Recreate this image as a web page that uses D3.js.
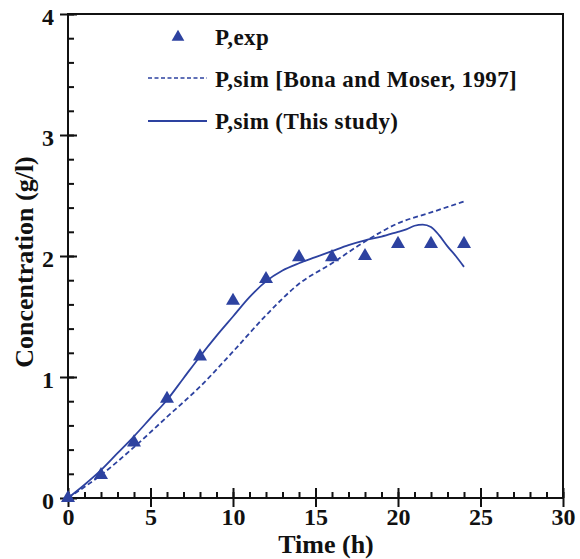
<!DOCTYPE html>
<html>
<head>
<meta charset="utf-8">
<script src="https://cdn.jsdelivr.net/npm/d3@7/dist/d3.min.js"></script>
<style>
  body { margin: 0; background: #fff; }
  text { font-family: "Liberation Serif", "Times New Roman", serif; font-weight: bold; fill: #111; }
</style>
</head>
<body>
<div id="chart"></div>
<script>
// experimental product concentration
const expTime = [0, 2, 4, 6, 8, 10, 12, 14, 16, 18, 20, 22, 24];
const expConc = [0, 0.19, 0.46, 0.82, 1.17, 1.63, 1.81, 1.99, 1.99, 2.0, 2.1, 2.1, 2.1];

// simulation, Bona and Moser 1997
const moserTime = [0, 2, 4, 6, 8, 10, 12, 14, 16, 18, 20, 22, 24];
const moserConc = [0, 0.19, 0.42, 0.67, 0.92, 1.21, 1.51, 1.77, 1.94, 2.12, 2.27, 2.36, 2.45];

// simulation, this study
const studyTime = [0, 1, 2, 3, 4, 5, 6, 7, 8, 9, 10, 11, 12, 13, 14, 15, 16, 17, 18, 19, 20, 20.5, 21, 21.5, 22, 22.5, 23, 23.5, 24];
const studyConc = [0, 0.11, 0.23, 0.37, 0.51, 0.66, 0.81, 0.99, 1.17, 1.34, 1.50, 1.66, 1.79, 1.88, 1.94, 1.99, 2.04, 2.09, 2.13, 2.16, 2.20, 2.22, 2.25, 2.26, 2.24, 2.17, 2.08, 2.00, 1.91];

const xMajor = [0, 5, 10, 15, 20, 25, 30];
const yMajor = [0, 1, 2, 3, 4];
const legendLabels = ['P,exp', 'P,sim [Bona and Moser, 1997]', 'P,sim (This study)'];

const width = 580, height = 559;
const blue = '#2d42a0';

const svg = d3.select('#chart')
    .append('svg')
    .attr('width', width)
    .attr('height', height);

const x = d3.scaleLinear().domain([0, 30]).range([68, 563]);
const y = d3.scaleLinear().domain([0, 4]).range([498, 14]);

// frame
svg.append('rect')
    .attr('x', x(0)).attr('y', y(4))
    .attr('width', x(30) - x(0)).attr('height', y(0) - y(4))
    .attr('fill', 'none').attr('stroke', '#111').attr('stroke-width', 2);

// x axis: minor ticks inward, major ticks crossing
svg.append('g')
    .attr('transform', `translate(0,${y(0)})`)
    .call(d3.axisBottom(x).tickValues(d3.range(0, 31, 1)).tickSize(-6).tickSizeOuter(0).tickFormat(''))
    .call(g => g.select('.domain').remove())
    .selectAll('line').attr('stroke', '#111').attr('stroke-width', 2);

const xAxis = svg.append('g')
    .attr('transform', `translate(0,${y(0)})`)
    .call(d3.axisBottom(x).tickValues(xMajor).tickSize(9).tickSizeOuter(0).tickPadding(0).tickFormat(d3.format('d')));
xAxis.select('.domain').remove();
xAxis.selectAll('line').attr('y1', -10).attr('stroke', '#111').attr('stroke-width', 2);
xAxis.selectAll('text')
    .attr('y', 27).attr('dy', 0)
    .style('font-size', '24px');

// y axis
svg.append('g')
    .attr('transform', `translate(${x(0)},0)`)
    .call(d3.axisLeft(y).tickValues(d3.range(0, 4.01, 0.2)).tickSize(-6).tickSizeOuter(0).tickFormat(''))
    .call(g => g.select('.domain').remove())
    .selectAll('line').attr('stroke', '#111').attr('stroke-width', 2);

const yAxis = svg.append('g')
    .attr('transform', `translate(${x(0)},0)`)
    .call(d3.axisLeft(y).tickValues(yMajor).tickSize(8).tickSizeOuter(0).tickPadding(0).tickFormat(d3.format('d')));
yAxis.select('.domain').remove();
yAxis.selectAll('line').attr('x1', 9).attr('stroke', '#111').attr('stroke-width', 2);
yAxis.selectAll('text')
    .attr('x', -14).attr('dy', '0.42em')
    .style('font-size', '24px');

// axis titles
svg.append('text')
    .attr('x', 326).attr('y', 553)
    .attr('text-anchor', 'middle')
    .style('font-size', '26px')
    .text('Time (h)');

svg.append('text')
    .attr('transform', 'translate(33,262) rotate(-90)')
    .attr('text-anchor', 'middle')
    .style('font-size', '26px')
    .text('Concentration (g/l)');

// simulated curves
const moserLine = d3.line()
    .x((d, i) => x(moserTime[i]))
    .y(d => y(d))
    .curve(d3.curveMonotoneX);

svg.append('path')
    .attr('d', moserLine(moserConc))
    .attr('fill', 'none')
    .attr('stroke', blue)
    .attr('stroke-width', 1.8)
    .attr('stroke-dasharray', '5,3');

const studyLine = d3.line()
    .x((d, i) => x(studyTime[i]))
    .y(d => y(d))
    .curve(d3.curveMonotoneX);

svg.append('path')
    .attr('d', studyLine(studyConc))
    .attr('fill', 'none')
    .attr('stroke', blue)
    .attr('stroke-width', 1.8);

// experimental points
const tri = d3.symbol().type(d3.symbolTriangle).size(85);
svg.selectAll('.pt')
    .data(expConc)
    .join('path')
    .attr('class', 'pt')
    .attr('transform', (d, i) => `translate(${x(expTime[i])},${y(d)})`)
    .attr('d', tri)
    .attr('fill', blue);

// legend
const legend = svg.append('g');
legend.append('path')
    .attr('transform', 'translate(178,37)')
    .attr('d', d3.symbol().type(d3.symbolTriangle).size(70))
    .attr('fill', blue);
legend.append('line')
    .attr('x1', 148).attr('x2', 207).attr('y1', 78).attr('y2', 78)
    .attr('stroke', blue).attr('stroke-width', 1.5).attr('stroke-dasharray', '4,2.5');
legend.append('line')
    .attr('x1', 148).attr('x2', 207).attr('y1', 121).attr('y2', 121)
    .attr('stroke', blue).attr('stroke-width', 1.8);
legend.selectAll('.lab')
    .data(legendLabels)
    .join('text')
    .attr('class', 'lab')
    .attr('x', 215)
    .attr('y', (d, i) => [45, 87, 129][i])
    .style('font-size', '23px')
    .style('letter-spacing', '0.4px')
    .text(d => d);
</script>
</body>
</html>
